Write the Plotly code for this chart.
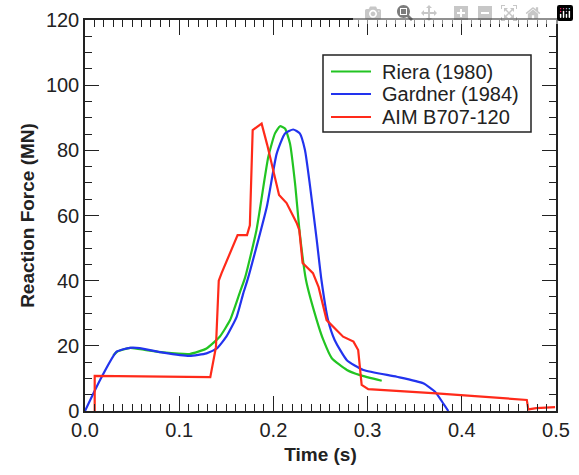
import plotly.graph_objects as go

# Riera (1980)
riera_t = [0.030, 0.034, 0.048, 0.065, 0.083, 0.111, 0.129, 0.143, 0.154, 0.1645, 0.170,
           0.182, 0.1946, 0.2017, 0.207, 0.2123, 0.2176, 0.223, 0.228, 0.2346, 0.246,
           0.253, 0.262, 0.278, 0.292, 0.315]
riera_f = [17.0, 18.2, 19.4, 18.7, 18.0, 17.5, 19.2, 22.8, 27.9, 36.5, 41.0,
           55.5, 78.0, 85.2, 87.4, 86.7, 82.1, 69.8, 54.5, 40.2, 27.9,
           21.8, 16.2, 12.6, 11.0, 9.3]

# Gardner (1984)
gardner_t = [0.0, 0.016, 0.0336, 0.0478, 0.058, 0.083, 0.111, 0.129, 0.140, 0.150, 0.161,
             0.168, 0.173, 0.193, 0.2035, 0.2123, 0.221, 0.228, 0.2335, 0.239, 0.246,
             0.251, 0.258, 0.265, 0.278, 0.2955, 0.331, 0.359, 0.3716, 0.3804, 0.3857]
gardner_f = [0.0, 9.5, 18.2, 19.4, 19.3, 17.9, 16.9, 17.7, 19.2, 22.8, 28.9,
             36.1, 40.7, 62.7, 79.0, 85.2, 86.4, 85.2, 80.1, 68.8, 52.5,
             40.2, 27.9, 21.8, 15.6, 12.6, 10.5, 8.5, 5.9, 2.3, 0.0]

# AIM B707-120
aim_t = [0.0103, 0.0103, 0.133, 0.139, 0.142, 0.145, 0.162, 0.172, 0.175, 0.178, 0.1875,
         0.1935, 0.206, 0.214, 0.2247, 0.2275, 0.231, 0.242, 0.248, 0.253, 0.2565,
         0.274, 0.285, 0.290, 0.292, 0.2937, 0.3007, 0.373, 0.469, 0.4706, 0.479, 0.499]
aim_f = [0.0, 10.8, 10.4, 19.6, 40.0, 42.3, 54.0, 54.0, 57.0, 86.2, 88.2,
         81.6, 66.3, 63.8, 57.7, 55.5, 45.4, 42.3, 38.0, 32.0, 27.9,
         22.8, 21.3, 18.7, 12.6, 8.0, 6.7, 5.4, 3.4, 0.5, 0.9, 1.2]

series_names = ["Riera (1980)", "Gardner (1984)", "AIM B707-120"]
series_colors = ["#22c422", "#2233ee", "#ff2a1a"]

x_ticks = [0.0, 0.1, 0.2, 0.3, 0.4, 0.5]
y_ticks = [0, 20, 40, 60, 80, 100, 120]

W, H = 579, 475
# plot area in window pixels: x 85..556, y 20..411 (page body margin removed below)
PL, PR, PT, PB = 85, 556, 20, 411
L, T, R, B = PL, PT, W - PR, H - PB

def px(x):
    return (x - PL) / (PR - PL)

def py(y):
    return (PB - y) / (PB - PT)

fig = go.Figure()
fig.add_trace(go.Scatter(x=riera_t, y=riera_f, mode="lines", name=series_names[0],
                         line=dict(color=series_colors[0], width=2.2, shape="spline", smoothing=0.5)))
fig.add_trace(go.Scatter(x=gardner_t, y=gardner_f, mode="lines", name=series_names[1],
                         line=dict(color=series_colors[1], width=2.2, shape="spline", smoothing=0.5)))
fig.add_trace(go.Scatter(x=aim_t, y=aim_f, mode="lines", name=series_names[2],
                         line=dict(color=series_colors[2], width=2.2)))

font = "Liberation Sans, Arial, sans-serif"

# boxed key (compact row spacing like the original)
shapes = [dict(type="rect", xref="paper", yref="paper",
               x0=px(323), x1=px(531), y0=py(132), y1=py(55),
               line=dict(color="#222", width=1.5), fillcolor="white", layer="above")]
annotations = []
rows = [71.5, 94, 117]
for name, color, ry in zip(series_names, series_colors, rows):
    shapes.append(dict(type="line", xref="paper", yref="paper",
                       x0=px(331), x1=px(371), y0=py(ry), y1=py(ry),
                       line=dict(color=color, width=2.2), layer="above"))
    annotations.append(dict(xref="paper", yref="paper", x=px(380), y=py(ry),
                            xanchor="left", yanchor="middle", showarrow=False,
                            text=name, font=dict(size=20, family=font, color="#222")))

fig.update_layout(
    width=W, height=H,
    margin=dict(l=L, r=R, t=T, b=B),
    paper_bgcolor="white", plot_bgcolor="white",
    font=dict(family=font, size=20, color="#222"),
    showlegend=False,
    shapes=shapes, annotations=annotations,
    xaxis=dict(range=[0, 0.5], tickvals=x_ticks, tickformat=".1f", automargin=False,
               ticks="inside", ticklen=15, tickwidth=1.2, tickcolor="#222",
               showline=True, linecolor="#222", linewidth=1.5, mirror="ticks",
               showgrid=False, zeroline=False,
               minor=dict(dtick=0.01, ticks="inside", ticklen=7, tickwidth=1.2, tickcolor="#222", showgrid=False),
               title=dict(text="<b>Time (s)</b>", font=dict(size=19, family=font, color="#222"), standoff=8)),
    yaxis=dict(range=[0, 120], tickvals=y_ticks, automargin=False,
               ticks="inside", ticklen=14, tickwidth=1.2, tickcolor="#222",
               ticksuffix=" ",
               showline=True, linecolor="#222", linewidth=1.5, mirror="ticks",
               showgrid=False, zeroline=False,
               minor=dict(dtick=5, ticks="inside", ticklen=7, tickwidth=1.2, tickcolor="#222", showgrid=False),
               title=dict(text="<b>Reaction Force (MN)</b>", font=dict(size=19, family=font, color="#222"), standoff=6)),
)

fig.write_html("out.html", post_script="document.body.style.margin='0';")
